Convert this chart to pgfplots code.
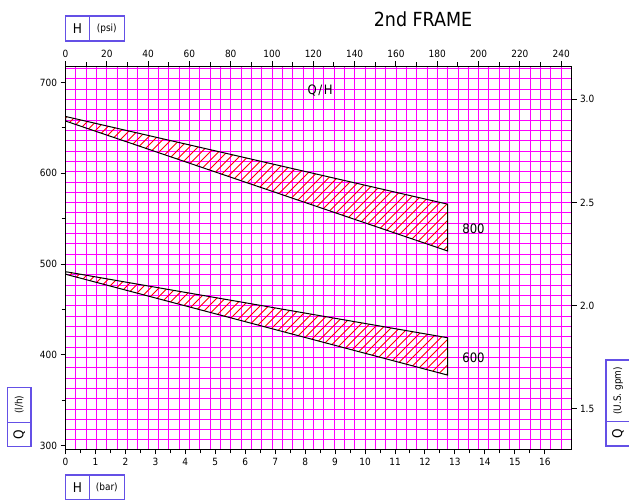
\documentclass[border=0pt]{standalone}
\usepackage{fontspec}
\setmainfont{DejaVu Sans Condensed}
\usepackage{pgfplots}
\pgfplotsset{compat=1.18}
\definecolor{boxblue}{RGB}{100,80,230}
\definecolor{gridmag}{RGB}{255,0,255}
\begin{document}
\begin{tikzpicture}
\useasboundingbox (0bp,0bp) rectangle (629bp,502bp);
\tikzset{gridline/.style={color=gridmag, line width=0.8bp}}
\pgfplotsset{
  common/.style={
    at={(65.5bp,52.5bp)}, anchor=south west, scale only axis,
    width=506bp, height=383bp,
    tick label style={font=\fontsize{10}{12}\selectfont},
    /pgf/number format/assume math mode=true,
    axis line style={line width=1bp, black},
    major tick length=5bp, minor tick length=4bp,
    every tick/.style={black, line width=1bp},
    tick align=outside,
  }
}
% grid every 5 psi and every 0.05 U.S. gpm, each direction as one path
\draw[gridline] \foreach \x in {5,10,...,240} {({65.5bp+\x*2.065306bp},52.5bp) -- ({65.5bp+\x*2.065306bp},435.5bp)};
\draw[gridline] \foreach \y in {1.35,1.40,...,3.151} {(65.5bp,{52.5bp+(\y-1.30325)*206.379bp}) -- (571.5bp,{52.5bp+(\y-1.30325)*206.379bp})};
% top / right axes (psi, U.S. gpm)
\begin{axis}[common, xmin=0, xmax=245, ymin=1.30325, ymax=3.15906,
  axis x line*=top, axis y line*=right,
  xtick={0,20,...,240}, minor xtick={10,30,...,230},
  ytick={1.5,2,2.5,3},
  yticklabel style={/pgf/number format/.cd, fixed, fixed zerofill, precision=1}]
\end{axis}
% bottom / left axes (bar, l/h) with data
\begin{axis}[common, xmin=0, xmax=16.892, ymin=296, ymax=717.5,
  axis x line*=bottom, axis y line*=left,
  xtick={0,1,...,16}, minor x tick num=1,
  ytick={300,400,...,700}, minor y tick num=1]
\pgfplotsextra{
  \begin{scope}
    \clip (axis cs:0,662.5) -- (axis cs:12.755,566.0) -- (axis cs:12.755,514.5) -- (axis cs:0,657.5) -- cycle;
    \foreach \i in {-55,...,46} {\draw[red, line width=0.9bp] ([xshift=\i*8.5bp]axis cs:0,296) -- ++(460bp,460bp);}
  \end{scope}
  \begin{scope}
    \clip (axis cs:0,491.7) -- (axis cs:12.755,419.0) -- (axis cs:12.755,377.9) -- (axis cs:0,488.9) -- cycle;
    \foreach \i in {-55,...,46} {\draw[red, line width=0.9bp] ([xshift=\i*8.5bp]axis cs:0,296) -- ++(460bp,460bp);}
  \end{scope}
}
\addplot[draw=black, line width=1bp] coordinates {(0,662.5) (12.755,566.0) (12.755,514.5) (0,657.5)} -- cycle;
\addplot[draw=black, line width=1bp] coordinates {(0,491.7) (12.755,419.0) (12.755,377.9) (0,488.9)} -- cycle;
\node[font=\fontsize{13}{15}\selectfont] at (axis cs:13.62,538.8) {800};
\node[font=\fontsize{13}{15}\selectfont] at (axis cs:13.62,396.6) {600};
\node[font=\fontsize{13}{15}\selectfont] at (axis cs:8.5,690.9) {Q\kern1.5pt/\kern1.5pt H};
\end{axis}
% title
\node[font=\fontsize{19.5}{22}\selectfont] at (423bp,483bp) {2nd FRAME};
% boxes
\begin{scope}[draw=boxblue, line width=1.2bp]
  \draw (65.7bp,486bp) rectangle (124.3bp,461bp);
  \draw (89.3bp,486bp) -- (89.3bp,461bp);
  \node[font=\fontsize{13.5}{15}\selectfont] at (77.5bp,473.5bp) {H};
  \node[font=\fontsize{10}{12}\selectfont] at (106.8bp,473.5bp) {(psi)};
  \draw (65.7bp,27bp) rectangle (124.3bp,2.7bp);
  \draw (89.3bp,27bp) -- (89.3bp,2.7bp);
  \node[font=\fontsize{13.5}{15}\selectfont] at (77.5bp,14.8bp) {H};
  \node[font=\fontsize{10}{12}\selectfont] at (106.8bp,14.8bp) {(bar)};
  \draw (7.3bp,114.7bp) rectangle (31bp,55.3bp);
  \draw (7.3bp,79.7bp) -- (31bp,79.7bp);
  \node[font=\fontsize{13.5}{15}\selectfont, rotate=90] at (19.2bp,67.5bp) {Q};
  \node[font=\fontsize{10}{12}\selectfont, rotate=90] at (19.2bp,97.2bp) {(l/h)};
  \draw (606bp,142bp) rectangle (630bp,56bp);
  \draw (606bp,80.3bp) -- (630bp,80.3bp);
  \node[font=\fontsize{13.5}{15}\selectfont, rotate=90] at (618bp,68.1bp) {Q};
  \node[font=\fontsize{10}{12}\selectfont, rotate=90] at (618bp,111.1bp) {(U.S. gpm)};
\end{scope}
\end{tikzpicture}
\end{document}
